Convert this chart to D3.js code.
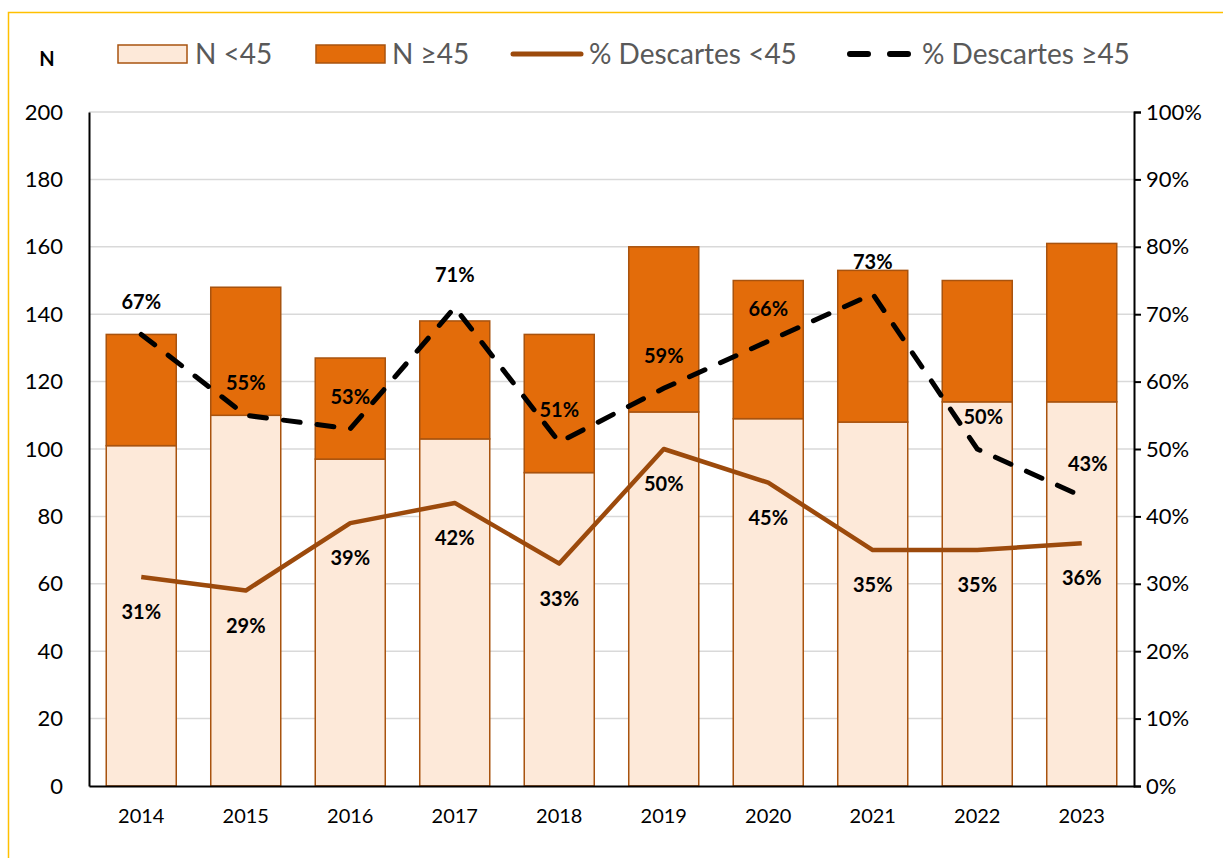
<!DOCTYPE html>
<html>
<head>
<meta charset="utf-8">
<script src="https://cdn.jsdelivr.net/npm/d3@7"></script>
<style>
  body { margin: 0; background: #fff; }
  text { font-family: Lato, "Open Sans", sans-serif; }
</style>
</head>
<body>
<script>
// chart data
var years = ["2014", "2015", "2016", "2017", "2018", "2019", "2020", "2021", "2022", "2023"];
var nUnder45 = [101, 110, 97, 103, 93, 111, 109, 108, 114, 114];
var nOver45 = [33, 38, 30, 35, 41, 49, 41, 45, 36, 47];
var pctUnder45 = [31, 29, 39, 42, 33, 50, 45, 35, 35, 36];
var pctOver45 = [67, 55, 53, 71, 51, 59, 66, 73, 50, 43];
var leftTicks = [0, 20, 40, 60, 80, 100, 120, 140, 160, 180, 200];
var rightTicks = [0, 10, 20, 30, 40, 50, 60, 70, 80, 90, 100];

var W = 1223, H = 858;
var margin = { top: 112, right: 89, bottom: 72, left: 89 },
  width = W - margin.left - margin.right,
  height = H - margin.top - margin.bottom;

var svg = d3.select("body").append("svg")
  .attr("width", W).attr("height", H);

// yellow frame
svg.append("rect")
  .attr("x", 8.5).attr("y", 12.5)
  .attr("width", W + 20).attr("height", H + 20)
  .attr("fill", "none").attr("stroke", "#ffc000").attr("stroke-width", 1.5);

var g = svg.append("g")
  .attr("transform", "translate(" + margin.left + "," + margin.top + ")");

var x = d3.scaleBand().domain(years).range([0, width]).paddingInner(0.33).paddingOuter(0.165);
var y = d3.scaleLinear().domain([0, 200]).range([height, 0]);
var y2 = d3.scaleLinear().domain([0, 100]).range([height, 0]);

// gridlines
g.selectAll(".grid").data(leftTicks.slice(1)).enter().append("line")
  .attr("x1", 0).attr("x2", width)
  .attr("y1", function (d) { return y(d); }).attr("y2", function (d) { return y(d); })
  .attr("stroke", "#d9d9d9").attr("stroke-width", 1.5);

// bars
var barStroke = "#a8530f";
g.selectAll(".b1").data(years).enter().append("rect")
  .attr("x", function (d) { return x(d); })
  .attr("width", x.bandwidth())
  .attr("y", function (d, i) { return y(nUnder45[i]); })
  .attr("height", function (d, i) { return height - y(nUnder45[i]); })
  .attr("fill", "#fde9d9").attr("stroke", barStroke).attr("stroke-width", 1.5);

g.selectAll(".b2").data(years).enter().append("rect")
  .attr("x", function (d) { return x(d); })
  .attr("width", x.bandwidth())
  .attr("y", function (d, i) { return y(nUnder45[i] + nOver45[i]); })
  .attr("height", function (d, i) { return y(nUnder45[i]) - y(nUnder45[i] + nOver45[i]); })
  .attr("fill", "#e36c0a").attr("stroke", barStroke).attr("stroke-width", 1.5);

// axes
var xAxis = g.append("g")
  .attr("transform", "translate(0," + height + ")")
  .call(d3.axisBottom(x).tickSize(0).tickPadding(23));
xAxis.select(".domain").attr("stroke", "#000").attr("stroke-width", 2);
xAxis.selectAll("text").attr("font-size", 20).attr("fill", "#000").style("font-family", "Lato");

var yAxis = g.append("g")
  .call(d3.axisLeft(y).tickValues(leftTicks).tickSize(0).tickPadding(26));
yAxis.select(".domain").attr("stroke", "#000").attr("stroke-width", 2);
yAxis.selectAll("text").attr("font-size", 22).attr("fill", "#000").style("font-family", "Lato");

var yAxis2 = g.append("g")
  .attr("transform", "translate(" + width + ",0)")
  .call(d3.axisRight(y2).tickValues(rightTicks).tickSize(7).tickSizeOuter(7).tickPadding(5)
    .tickFormat(function (d) { return d + "%"; }));
yAxis2.select(".domain").attr("stroke", "#000").attr("stroke-width", 2);
yAxis2.selectAll(".tick line").attr("stroke", "#000").attr("stroke-width", 2);
yAxis2.selectAll("text").attr("font-size", 22).attr("fill", "#000").style("font-family", "Lato");

// lines
var cx = function (i) { return x(years[i]) + x.bandwidth() / 2; };
var line = d3.line()
  .x(function (d, i) { return cx(i); })
  .y(function (d) { return y2(d); });

g.append("path").datum(pctUnder45)
  .attr("d", line).attr("fill", "none")
  .attr("stroke", "#9c4a0c").attr("stroke-width", 4.5).attr("stroke-linejoin", "round");

g.append("path").datum(pctOver45)
  .attr("d", line).attr("fill", "none")
  .attr("stroke", "#000").attr("stroke-width", 5)
  .attr("stroke-dasharray", "17,17").attr("stroke-linecap", "round");

// data labels
g.selectAll(".l1").data(pctUnder45).enter().append("text")
  .attr("x", function (d, i) { return cx(i); })
  .attr("y", function (d) { return y2(d) + 42; })
  .attr("text-anchor", "middle").attr("font-size", 20).attr("font-weight", "bold")
  .text(function (d) { return d + "%"; });

g.selectAll(".l2").data(pctOver45).enter().append("text")
  .attr("x", function (d, i) { return cx(i) + (i >= 8 ? 6 : 0); })
  .attr("y", function (d) { return y2(d) - 25; })
  .attr("text-anchor", "middle").attr("font-size", 20).attr("font-weight", "bold")
  .text(function (d) { return d + "%"; });

// axis title
svg.append("text").attr("x", 47).attr("y", 66).attr("text-anchor", "middle")
  .attr("font-size", 20).attr("font-weight", "bold").text("N");

// legend
var leg = svg.append("g");
var legText = "#595959";
leg.append("rect").attr("x", 118).attr("y", 45).attr("width", 69).attr("height", 18)
  .attr("fill", "#fde9d9").attr("stroke", barStroke).attr("stroke-width", 1.5);
leg.append("text").attr("x", 195).attr("y", 64).attr("font-size", 28).attr("fill", legText).text("N <45");
leg.append("rect").attr("x", 316).attr("y", 45).attr("width", 69).attr("height", 18)
  .attr("fill", "#e36c0a").attr("stroke", barStroke).attr("stroke-width", 1.5);
leg.append("text").attr("x", 392).attr("y", 64).attr("font-size", 28).attr("fill", legText).text("N ≥45");
leg.append("line").attr("x1", 513).attr("x2", 581).attr("y1", 54).attr("y2", 54)
  .attr("stroke", "#9c4a0c").attr("stroke-width", 5).attr("stroke-linecap", "round");
leg.append("text").attr("x", 589).attr("y", 64).attr("font-size", 28).attr("fill", legText).text("% Descartes <45");
leg.append("line").attr("x1", 850).attr("x2", 910).attr("y1", 54).attr("y2", 54)
  .attr("stroke", "#000").attr("stroke-width", 6).attr("stroke-linecap", "round")
  .attr("stroke-dasharray", "18,22");
leg.append("text").attr("x", 922).attr("y", 64).attr("font-size", 28).attr("fill", legText).text("% Descartes ≥45");
</script>
</body>
</html>
